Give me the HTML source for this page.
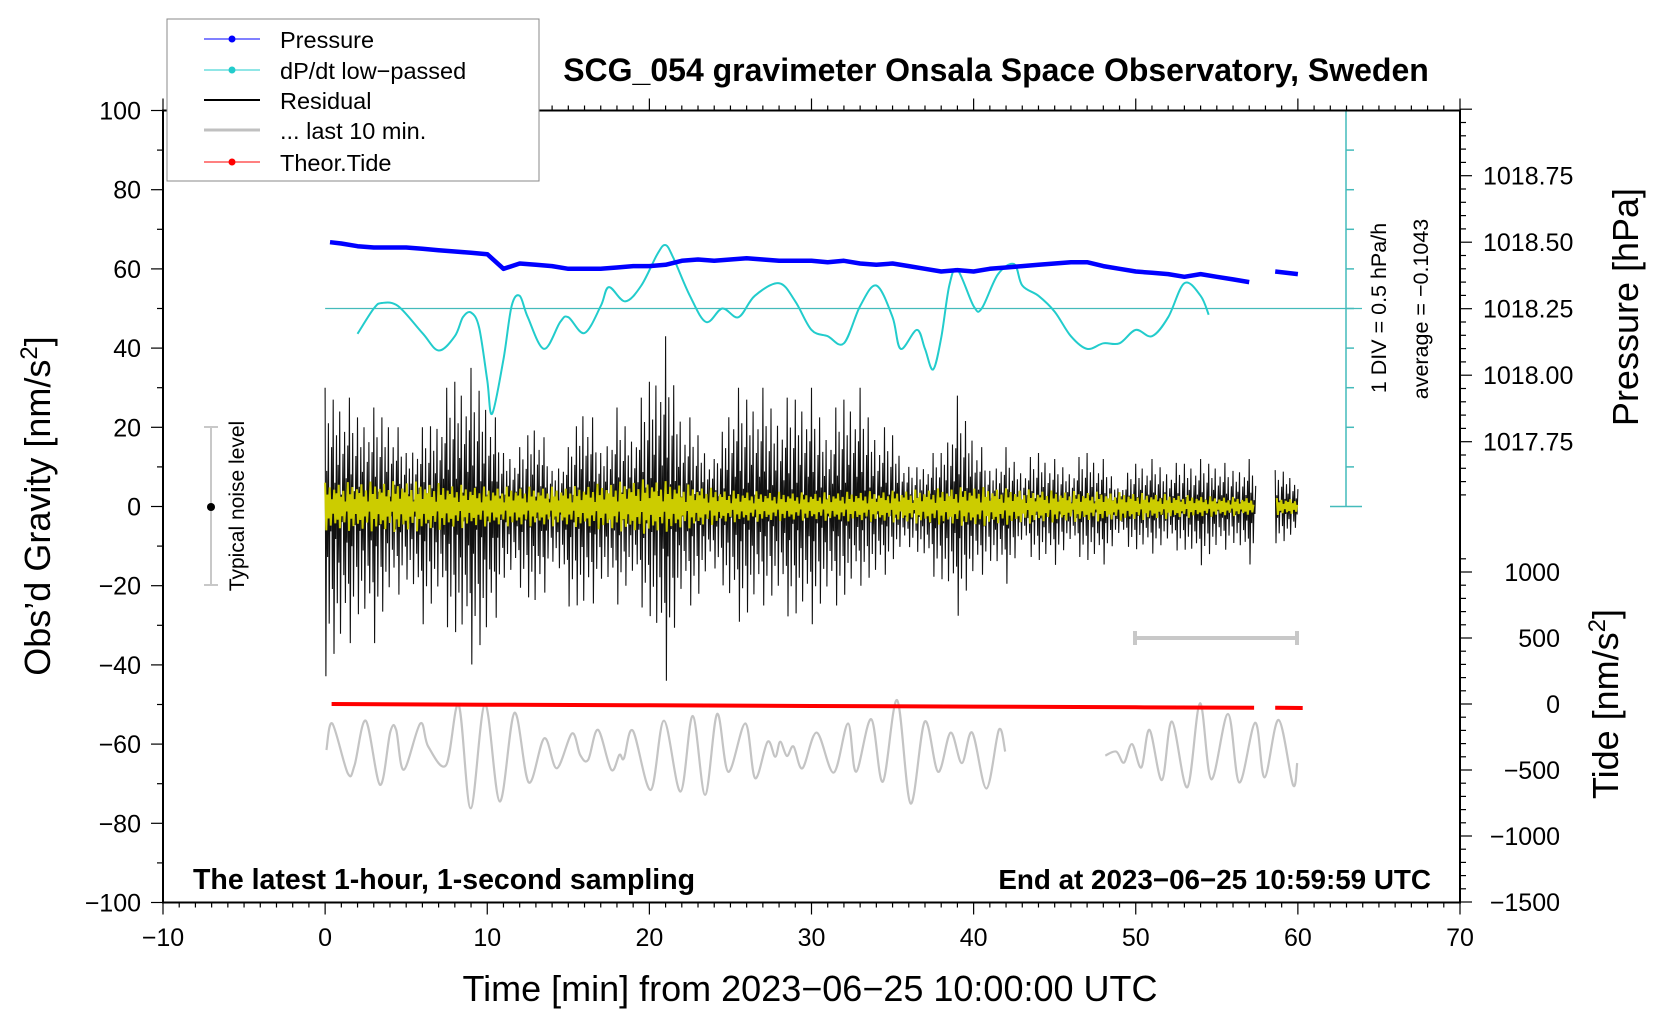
<!DOCTYPE html>
<html><head><meta charset="utf-8"><style>
html,body{margin:0;padding:0;background:#fff;}
svg{display:block;font-family:"Liberation Sans",sans-serif;}
</style></head><body>
<svg id="chart" width="1660" height="1020" viewBox="0 0 1660 1020" xmlns="http://www.w3.org/2000/svg">
<rect x="0" y="0" width="1660" height="1020" fill="#fff"/>
<g id="marks"></g>
<g id="axes"></g>
<text x="996" y="81" font-size="32" font-weight="bold" text-anchor="middle">SCG_054 gravimeter Onsala Space Observatory, Sweden</text>
<text x="193" y="889" font-size="28.5" font-weight="bold">The latest 1-hour, 1-second sampling</text>
<text x="1431" y="889" font-size="27.8" font-weight="bold" text-anchor="end">End at 2023−06−25 10:59:59 UTC</text>
<text x="810" y="1001" font-size="36" text-anchor="middle">Time [min] from 2023−06−25 10:00:00 UTC</text>
<text transform="translate(50,506) rotate(-90)" font-size="36" text-anchor="middle">Obs’d Gravity [nm/s<tspan font-size="24" dy="-13">2</tspan><tspan dy="13">]</tspan></text>
<text transform="translate(1638,307) rotate(-90)" font-size="36" text-anchor="middle">Pressure [hPa]</text>
<text transform="translate(1618,704) rotate(-90)" font-size="36" text-anchor="middle">Tide [nm/s<tspan font-size="24" dy="-13">2</tspan><tspan dy="13">]</tspan></text>
<text transform="translate(1386,308) rotate(-90)" font-size="21.5" text-anchor="middle">1 DIV = 0.5 hPa/h</text>
<text transform="translate(1428,309) rotate(-90)" font-size="21.5" text-anchor="middle">average = −0.1043</text>
<g>
<line x1="211" y1="427" x2="211" y2="585" stroke="#c8c8c8" stroke-width="2"/>
<line x1="204" y1="427" x2="218" y2="427" stroke="#c8c8c8" stroke-width="2"/>
<line x1="204" y1="585" x2="218" y2="585" stroke="#c8c8c8" stroke-width="2"/>
<circle cx="211" cy="507" r="4" fill="#000"/>
</g>
<text transform="translate(244,506) rotate(-90)" font-size="21" text-anchor="middle">Typical noise level</text>
<g>
<line x1="1135" y1="638" x2="1297" y2="638" stroke="#c8c8c8" stroke-width="4"/>
<line x1="1135" y1="631" x2="1135" y2="645" stroke="#c8c8c8" stroke-width="4"/>
<line x1="1297" y1="631" x2="1297" y2="645" stroke="#c8c8c8" stroke-width="4"/>
</g>
<g>
<rect x="167" y="19" width="372" height="162" fill="#fff" stroke="#888" stroke-width="1"/>
<g><line x1="204" y1="39" x2="260" y2="39" stroke="#0000ff" stroke-width="1"/><circle cx="232" cy="39" r="3.5" fill="#0000ff"/><text x="280" y="48" font-size="23.5">Pressure</text></g>
<g><line x1="204" y1="70" x2="260" y2="70" stroke="#22cccc" stroke-width="1"/><circle cx="232" cy="70" r="3.5" fill="#22cccc"/><text x="280" y="79" font-size="23.5">dP/dt low−passed</text></g>
<g><line x1="204" y1="100" x2="260" y2="100" stroke="#000" stroke-width="2"/><text x="280" y="109" font-size="23.5">Residual</text></g>
<g><line x1="204" y1="130" x2="260" y2="130" stroke="#c0c0c0" stroke-width="3"/><text x="280" y="139" font-size="23.5">... last 10 min.</text></g>
<g><line x1="204" y1="162" x2="260" y2="162" stroke="#ff0000" stroke-width="1"/><circle cx="232" cy="162" r="3.5" fill="#ff0000"/><text x="280" y="171" font-size="23.5">Theor.Tide</text></g>
</g>
</svg>
<script>
// ---- data ----
const xTicks=[-10,0,10,20,30,40,50,60,70];
const yTicks=[100,80,60,40,20,0,-20,-40,-60,-80,-100];
const pTicks=[1018.75,1018.50,1018.25,1018.00,1017.75];
const tideTicks=[1000,500,0,-500,-1000,-1500];
const resMinutes=[0,1,2,3,4,5,6,7,8,9,10,11,12,13,14,15,16,17,18,19,20,21,22,23,24,25,26,27,28,29,30,31,32,33,34,35,36,37,38,39,40,41,42,43,44,45,46,47,48,49,50,51,52,53,54,55,56,57,58,59,60];
const resUpper=[30,30,25,25,25,15,20,25,35,35,30,15,15,25,10,15,30,15,25,20,35,43,25,20,12,30,30,30,25,30,30,20,30,30,20,20,10,12,15,28,20,10,15,10,15,12,10,15,12,5,12,12,10,12,12,12,10,12,8,10,8];
const resLower=[-43,-40,-30,-35,-25,-20,-30,-25,-35,-40,-38,-20,-20,-30,-15,-25,-30,-20,-25,-20,-30,-45,-25,-25,-15,-28,-30,-25,-25,-30,-30,-25,-25,-20,-20,-15,-10,-15,-20,-28,-20,-15,-20,-10,-15,-15,-10,-15,-15,-8,-12,-12,-10,-12,-15,-12,-10,-15,-8,-10,-8];
const yellowMinutes=[0,5,10,15,20,25,30,35,40,45,50,55,60];
const yellowAmp=[6,6.5,5,5,7,4,3.5,4,5,4,3.5,2.5,2];
const pressMinutes=resMinutes;
const pressure=[1018.50,1018.495,1018.485,1018.48,1018.48,1018.48,1018.475,1018.47,1018.465,1018.46,1018.455,1018.40,1018.42,1018.415,1018.41,1018.40,1018.40,1018.40,1018.405,1018.41,1018.41,1018.415,1018.43,1018.435,1018.43,1018.435,1018.44,1018.435,1018.43,1018.43,1018.43,1018.425,1018.43,1018.42,1018.415,1018.42,1018.41,1018.40,1018.39,1018.395,1018.39,1018.40,1018.405,1018.41,1018.415,1018.42,1018.425,1018.425,1018.41,1018.40,1018.39,1018.385,1018.38,1018.37,1018.38,1018.37,1018.36,1018.35,null,1018.39,1018.38];
const dpdtTimes=[2,3,3.5,4.5,6,7,8,8.5,9,9.5,10,10.3,11,11.5,12,12.5,13.5,14.5,15,16,17,17.5,18.5,19.5,20.5,21,21.5,22.5,23.5,24.5,25.5,26.5,28,29,30,31,32,33,34,35,35.5,36.5,37,37.5,38,38.5,39,40,40.5,41.5,42.5,43,44,45,46,47,48,49,50,51,52,53,54,54.5];
const dpdt=[-0.32,0,0.07,0.03,-0.31,-0.53,-0.35,-0.11,-0.05,-0.24,-0.91,-1.33,-0.64,0.03,0.16,-0.11,-0.51,-0.17,-0.11,-0.31,0.03,0.27,0.09,0.29,0.69,0.8,0.63,0.16,-0.17,0,-0.11,0.16,0.32,0.09,-0.27,-0.35,-0.44,0.03,0.29,-0.11,-0.51,-0.27,-0.51,-0.77,-0.37,0.29,0.49,0.03,0,0.43,0.56,0.29,0.16,-0.04,-0.35,-0.51,-0.44,-0.44,-0.27,-0.35,-0.11,0.32,0.16,-0.08];
const tideTimes=[0.4,10,20,30,40,50,57.3,58.6,60.3];
const tide=[0,-5,-10,-15,-20,-25,-28.5,null,-29,-30];
const greyTimesA=[0.08,0.44,1.40,1.82,2.51,3.39,4.02,4.38,4.85,5.87,6.36,7.46,8.24,8.98,9.86,10.77,11.68,12.56,13.52,14.29,15.23,15.73,16.22,16.83,17.65,18.15,18.43,18.98,20.08,20.90,21.92,22.67,23.44,24.18,24.87,25.92,26.52,27.29,27.76,28.07,28.48,28.89,29.44,30.32,31.37,32.25,32.75,33.68,34.40,35.28,36.11,36.99,37.81,38.58,39.27,39.91,40.79,41.56,41.95];
const greyA=[-61.5,-54.8,-67.4,-65.3,-54.1,-70.3,-56.9,-56.4,-66.5,-54.8,-60.6,-65.3,-50.1,-76.2,-49.9,-74.5,-52.1,-69.7,-58.5,-66.1,-57.3,-62.7,-64.0,-56.4,-66.5,-62.7,-63.6,-56.6,-71.6,-54.1,-72.0,-52.9,-72.8,-52.4,-67.0,-54.8,-68.6,-59.4,-63.2,-59.4,-63.0,-60.6,-66.1,-57.1,-67.2,-54.8,-67.0,-53.7,-69.5,-48.9,-75.0,-54.3,-67.0,-57.1,-64.8,-57.1,-71.2,-56.4,-61.9];
const greyTimesB=[48.12,48.80,49.27,49.77,50.34,50.85,51.61,52.23,53.18,53.96,54.66,55.69,56.39,57.37,57.95,58.81,59.70,59.96];
const greyB=[-62.9,-61.9,-64.7,-60.0,-65.9,-56.4,-69.1,-54.3,-70.9,-49.7,-68.9,-52.4,-69.7,-54.6,-68.4,-53.9,-70.3,-64.8];

// ---- scales ----
const X=t=>163+(t+10)*16.2125;
const Y=g=>110.5+(100-g)*3.96;
const P=p=>308.7-(p-1018.25)*266;
const T=v=>704-v*0.132;
const NS='http://www.w3.org/2000/svg';
const marks=document.getElementById('marks'), axes=document.getElementById('axes');
function mk(tag,attrs,parent){const e=document.createElementNS(NS,tag);for(const k in attrs)e.setAttribute(k,attrs[k]);(parent||marks).appendChild(e);return e;}
function interp(xs,ys,t){if(t<=xs[0])return ys[0];for(let i=1;i<xs.length;i++){if(t<=xs[i]){const f=(t-xs[i-1])/(xs[i]-xs[i-1]);return ys[i-1]+f*(ys[i]-ys[i-1]);}}return ys[ys.length-1];}
function smoothPath(pts){let d='M'+pts[0][0].toFixed(1)+','+pts[0][1].toFixed(1);for(let i=0;i<pts.length-1;i++){const p0=pts[Math.max(0,i-1)],p1=pts[i],p2=pts[i+1],p3=pts[Math.min(pts.length-1,i+2)];const c1x=p1[0]+(p2[0]-p0[0])/6,c1y=p1[1]+(p2[1]-p0[1])/6,c2x=p2[0]-(p3[0]-p1[0])/6,c2y=p2[1]-(p3[1]-p1[1])/6;d+=' C'+c1x.toFixed(1)+','+c1y.toFixed(1)+' '+c2x.toFixed(1)+','+c2y.toFixed(1)+' '+p2[0].toFixed(1)+','+p2[1].toFixed(1);}return d;}

// ---- cyan dP/dt scale ----
const cy=mk('g',{});


mk('line',{x1:X(0),y1:Y(50),x2:1362,y2:Y(50),stroke:'#44bbbb','stroke-width':1.2},cy);
mk('line',{x1:1346,y1:Y(100),x2:1346,y2:Y(0),stroke:'#44bbbb','stroke-width':1.5},cy);
for(let k=0;k<=10;k++){const yy=Y(k*10);const end=(k===0||k===10);mk('line',{x1:end?1330:1346,y1:yy,x2:end?1362:1354,y2:yy,stroke:'#44bbbb','stroke-width':1.5},cy);}

// ---- grey last 10 min ----
[[greyTimesA,greyA],[greyTimesB,greyB]].forEach(([ts,vs])=>{const pts=ts.map((t,j)=>[X(t),Y(vs[j])]);const e=mk('path',{d:smoothPath(pts),fill:'none',stroke:'#c4c4c4','stroke-width':2.2});

});

// ---- residual ----
const pat=[1,0.3,0.7,0.15,0.5,0.9,0.2,0.6,0.35,0.8,0.1,0.45,0.65,0.25,0.55];
function residualSeg(t0,t1){let d='';let k=0;for(let t=t0;t<=t1;t+=0.05,k++){const up=interp(resMinutes,resUpper,t),lo=interp(resMinutes,resLower,t);const v=(k%2?lo:up)*pat[Math.floor(k/2)%pat.length];d+=(d?'L':'M')+X(t).toFixed(1)+','+Y(v).toFixed(1);}return d;}
[[0,57.4],[58.6,60]].forEach(([a,b])=>{const e=mk('path',{d:residualSeg(a,b),fill:'none',stroke:'#111','stroke-width':1.1});

});
const pat2=[1,0.5,0.8,0.3,0.7,0.55,0.9,0.4,0.65,0.2];
function yellowSeg(t0,t1){let d='';let k=0;for(let t=t0;t<=t1;t+=0.07,k++){const a=interp(yellowMinutes,yellowAmp,t);const v=(k%2?-a:a)*pat2[Math.floor(k/2)%pat2.length];d+=(d?'L':'M')+X(t).toFixed(1)+','+Y(v).toFixed(1);}return d;}
[[0,57.3],[58.7,60]].forEach(([a,b])=>{const e=mk('path',{d:yellowSeg(a,b),fill:'none',stroke:'#cccc00','stroke-width':2});

});

// ---- dP/dt ----
{const pts=dpdtTimes.map((t,i)=>[X(t),Y(50+dpdt[i]*20)]);const e=mk('path',{d:smoothPath(pts),fill:'none',stroke:'#22cccc','stroke-width':2});

}

// ---- pressure ----
{let d='';let pen=false;pressMinutes.forEach((t,i)=>{const p=pressure[i];if(p===null){pen=false;return;}const tt=(i===0)?0.3:(i===59?58.6:t);d+=(pen?'L':'M')+X(tt).toFixed(1)+','+P(p).toFixed(1);pen=true;});
const e=mk('path',{d:d,fill:'none',stroke:'#0000ff','stroke-width':4.5,'stroke-linejoin':'round'});

}

// ---- tide ----
{let d='';let pen=false;let ti=0;tide.forEach((v)=>{if(v===null){pen=false;return;}const t=tideTimes[ti++];d+=(pen?'L':'M')+X(t).toFixed(1)+','+T(v).toFixed(1);pen=true;});
const e=mk('path',{d:d,fill:'none',stroke:'#ff0000','stroke-width':4});

}

// ---- axes ----
const L=X(-10),R=X(70),TOP=Y(100),BOT=Y(-100);
const frame=mk('rect',{x:L,y:TOP,width:R-L,height:BOT-TOP,fill:'none',stroke:'#000','stroke-width':2},axes);


for(let m=-10;m<=70;m++){const xx=X(m);const major=m%10===0;mk('line',{x1:xx,y1:BOT,x2:xx,y2:BOT+(major?12:5),stroke:'#000','stroke-width':1.2},axes);mk('line',{x1:xx,y1:TOP,x2:xx,y2:TOP-(major?12:5),stroke:'#000','stroke-width':1.2},axes);}
xTicks.forEach(v=>{const t=mk('text',{x:X(v),y:946,'font-size':25,'text-anchor':'middle'},axes);t.textContent=String(v).replace('-','−');

});
for(let g=-100;g<=100;g+=10){const yy=Y(g);const major=g%20===0;mk('line',{x1:L,y1:yy,x2:L-(major?12:6),y2:yy,stroke:'#000','stroke-width':1.2},axes);}
yTicks.forEach(v=>{const t=mk('text',{x:141,y:Y(v)+9,'font-size':25,'text-anchor':'end'},axes);t.textContent=String(v).replace('-','−');

});
for(let k=0;k<=29;k++){const p=1019.0-k*0.05;const yy=P(p);const major=Math.abs((p*4)-Math.round(p*4))<1e-6;mk('line',{x1:R,y1:yy,x2:R+(major?12:6),y2:yy,stroke:'#000','stroke-width':1.2},axes);}
pTicks.forEach(v=>{const t=mk('text',{x:1483,y:P(v)+9,'font-size':25},axes);t.textContent=v.toFixed(2);

});
for(let v=-1500;v<=1100;v+=100){const yy=T(v);const major=v%500===0;mk('line',{x1:R,y1:yy,x2:R+(major?12:6),y2:yy,stroke:'#000','stroke-width':1.2},axes);}
tideTicks.forEach(v=>{const t=mk('text',{x:1560,y:T(v)+9,'font-size':25,'text-anchor':'end'},axes);t.textContent=String(v).replace('-','−');

});
</script>
</body></html>
